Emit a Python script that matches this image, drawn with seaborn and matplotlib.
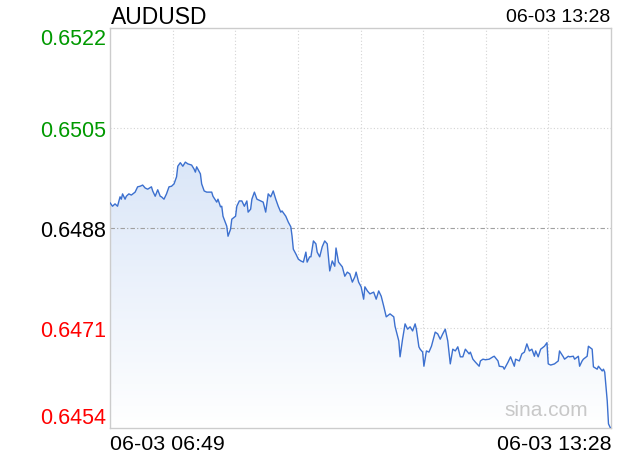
import numpy as np
import pandas as pd
import matplotlib
matplotlib.use("Agg")
import matplotlib.pyplot as plt
import seaborn as sns
from matplotlib.colors import LinearSegmentedColormap
from matplotlib.patches import PathPatch

# minutes after 06:49
minutes = [0, 2, 4, 6, 8, 9, 10, 12, 13, 15,
           17, 20, 22, 24, 26, 28, 30, 33, 34, 36,
           38, 40, 41, 43, 45, 47, 49, 51, 53, 54,
           56, 58, 60, 62, 65, 67, 68, 69, 72, 73,
           75, 77, 79, 81, 82, 85, 86, 88, 89, 90,
           93, 94, 96, 97, 100, 101, 103, 105, 107, 109,
           110, 112, 113, 115, 117, 120, 122, 124, 126, 128,
           130, 132, 134, 136, 137, 140, 142, 144, 145, 146,
           148, 150, 152, 154, 156, 157, 159, 160, 162, 164,
           165, 167, 169, 171, 173, 175, 177, 179, 180, 182,
           185, 187, 189, 191, 193, 195, 196, 198, 200, 202,
           203, 205, 207, 210, 212, 214, 216, 218, 220, 223,
           226, 227, 230, 231, 233, 235, 237, 239, 241, 243,
           244, 246, 247, 249, 250, 252, 254, 256, 259, 261,
           263, 265, 267, 269, 271, 273, 275, 277, 279, 281,
           283, 286, 287, 289, 291, 294, 295, 297, 299, 302,
           305, 306, 309, 310, 313, 314, 317, 319, 322, 323,
           326, 328, 330, 332, 334, 336, 338, 339, 341, 343,
           346, 348, 349, 351, 354, 357, 358, 361, 362, 365,
           366, 369, 370, 373, 374, 376, 377, 380, 381, 384,
           385, 388, 389, 392, 393, 394, 396, 397, 399]
prices = [0.64923, 0.64917, 0.64921, 0.64917, 0.64933, 0.64929, 0.64938, 0.64929, 0.64934, 0.64938,
          0.64936, 0.64941, 0.64950, 0.64951, 0.64953, 0.64948, 0.64946, 0.64950, 0.64943, 0.64934,
          0.64945, 0.64934, 0.64933, 0.64929, 0.64938, 0.64950, 0.64951, 0.64955, 0.64967, 0.64985,
          0.64991, 0.64985, 0.64992, 0.64989, 0.64987, 0.64980, 0.64975, 0.64984, 0.64972, 0.64955,
          0.64943, 0.64941, 0.64941, 0.64941, 0.64934, 0.64924, 0.64929, 0.64916, 0.64917, 0.64900,
          0.64883, 0.64866, 0.64878, 0.64895, 0.64900, 0.64917, 0.64926, 0.64926, 0.64917, 0.64926,
          0.64907, 0.64912, 0.64929, 0.64941, 0.64929, 0.64926, 0.64924, 0.64907, 0.64938, 0.64933,
          0.64943, 0.64929, 0.64917, 0.64907, 0.64909, 0.64900, 0.64890, 0.64882, 0.64866, 0.64844,
          0.64836, 0.64827, 0.64824, 0.64822, 0.64839, 0.64822, 0.64831, 0.64831, 0.64858, 0.64853,
          0.64839, 0.64831, 0.64848, 0.64858, 0.64853, 0.64807, 0.64824, 0.64815, 0.64846, 0.64822,
          0.64814, 0.64798, 0.64805, 0.64802, 0.64788, 0.64797, 0.64805, 0.64788, 0.64780, 0.64759,
          0.64780, 0.64773, 0.64768, 0.64771, 0.64759, 0.64773, 0.64764, 0.64747, 0.64729, 0.64734,
          0.64729, 0.64713, 0.64688, 0.64661, 0.64691, 0.64717, 0.64708, 0.64712, 0.64705, 0.64717,
          0.64708, 0.64678, 0.64674, 0.64669, 0.64645, 0.64671, 0.64669, 0.64679, 0.64703, 0.64700,
          0.64691, 0.64700, 0.64708, 0.64688, 0.64649, 0.64674, 0.64671, 0.64678, 0.64661, 0.64661,
          0.64674, 0.64666, 0.64669, 0.64657, 0.64652, 0.64645, 0.64654, 0.64657, 0.64656, 0.64657,
          0.64661, 0.64662, 0.64654, 0.64645, 0.64644, 0.64640, 0.64652, 0.64661, 0.64645, 0.64657,
          0.64654, 0.64666, 0.64669, 0.64683, 0.64671, 0.64674, 0.64662, 0.64671, 0.64661, 0.64674,
          0.64679, 0.64685, 0.64649, 0.64647, 0.64649, 0.64654, 0.64671, 0.64661, 0.64657, 0.64662,
          0.64661, 0.64662, 0.64657, 0.64662, 0.64645, 0.64654, 0.64657, 0.64662, 0.64679, 0.64674,
          0.64644, 0.64640, 0.64645, 0.64637, 0.64640, 0.64635, 0.64586, 0.64547, 0.64538]

y_ticks = [0.6522, 0.6505, 0.6488, 0.6471, 0.6454]
y_tick_labels = ["0.6522", "0.6505", "0.6488", "0.6471", "0.6454"]
y_tick_colors = ["#009900", "#009900", "#000000", "#ff0000", "#ff0000"]
prev_close = 0.6488
x_range = [0, 399]
x_tick_labels = ["06-03 06:49", "06-03 13:28"]
title = "AUDUSD"
stamp = "06-03 13:28"
watermark = "sina.com"

sns.set_theme(style="white")
plt.rcParams['font.family'] = ['Liberation Sans', 'DejaVu Sans']

fig = plt.figure(figsize=(6.2, 4.6), dpi=100)
ax = fig.add_axes([110 / 620, 31 / 460, 501 / 620, 400 / 460])

df = pd.DataFrame({"minute": minutes, "price": prices})

# gradient fill under the line
poly = ax.fill_between(df["minute"], df["price"], y_ticks[-1], color="none", lw=0)
clip = PathPatch(poly.get_paths()[0], transform=ax.transData, fc="none", ec="none")
ax.add_patch(clip)
grad = np.linspace(0, 1, 256).reshape(-1, 1)
cmap = LinearSegmentedColormap.from_list("g", ["#ffffff", "#dae6f8"])
im = ax.imshow(grad, extent=[x_range[0], x_range[1], y_ticks[-1], 0.6500], origin="lower",
               aspect="auto", cmap=cmap, zorder=1, interpolation="bilinear")
im.set_clip_path(clip)

sns.lineplot(data=df, x="minute", y="price", ax=ax, color="#3c70cf", linewidth=1.0, zorder=3)

ax.set_xlim(*x_range)
ax.set_ylim(y_ticks[-1], y_ticks[0])

# grid
for k in range(1, 8):
    ax.axvline(x_range[1] * k / 8, color="#d4d4d4", lw=0.8, ls=(0, (1, 2)), zorder=0)
for v in y_ticks[1:-1]:
    if v == prev_close:
        ax.axhline(v, color="#a0a0a0", lw=0.8, ls=(0, (4, 2, 1, 2)), zorder=2)
    else:
        ax.axhline(v, color="#d4d4d4", lw=0.8, ls=(0, (1, 2)), zorder=0)

for s in ax.spines.values():
    s.set_color("#cccccc")
    s.set_linewidth(1)

ax.set_yticks(y_ticks)
ax.set_yticklabels(y_tick_labels)
ax.tick_params(axis="y", length=0, pad=3, labelsize=15.5)
for lab, c in zip(ax.get_yticklabels(), y_tick_colors):
    lab.set_color(c)
ylabs = ax.get_yticklabels()
ylabs[0].set_va("top")
ylabs[-1].set_va("bottom")

ax.set_xticks(x_range)
ax.set_xticklabels(x_tick_labels)
ax.tick_params(axis="x", length=0, pad=4, labelsize=15.4, labelcolor="#000000")
xlabs = ax.get_xticklabels()
xlabs[0].set_ha("left")
xlabs[-1].set_ha("right")
ax.set_xlabel("")
ax.set_ylabel("")

fig.text(111 / 620, 1 - 17 / 460, title, fontsize=16.5, va="center", ha="left", color="#000000")
fig.text(610 / 620, 1 - 18 / 460, stamp, fontsize=14, va="center", ha="right", color="#000000")
fig.text(546 / 620, 1 - 411 / 460, watermark, fontsize=15, va="center", ha="center", color="#c8c8c8")

fig.savefig("out.png", dpi=100)
